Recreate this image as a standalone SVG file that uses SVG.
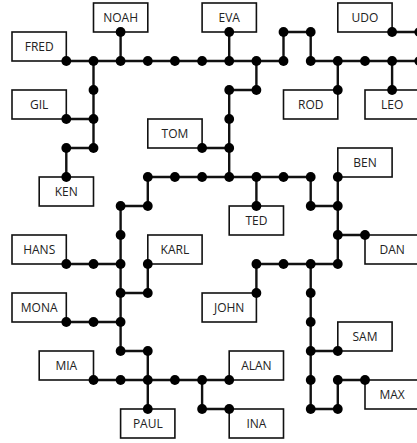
<svg xmlns="http://www.w3.org/2000/svg" width="417" height="443" viewBox="0 0 417 443">
<style>
.box rect{fill:#fff;stroke:#111;stroke-width:1.6}
.box text{font-family:"Open Sans","Noto Sans",sans-serif;font-size:12px;fill:#222;text-anchor:middle}
.wires path{fill:none;stroke:#111;stroke-width:2.4;stroke-linejoin:miter}
.wires use{fill:#000}
</style>
<defs><circle id="d" r="4.9"/></defs>
<rect width="417" height="443" fill="#fff"/>
<g class="box" id="noah"><rect x="93.5" y="3" width="54.3" height="29"/><text x="120.6" y="22">NOAH</text></g>
<g class="box" id="eva"><rect x="202.1" y="3" width="54.3" height="29"/><text x="229.2" y="22">EVA</text></g>
<g class="box" id="udo"><rect x="337.8" y="3" width="54.3" height="29"/><text x="365" y="22">UDO</text></g>
<g class="box" id="fred"><rect x="12" y="32" width="54.3" height="29"/><text x="39.2" y="51">FRED</text></g>
<g class="box" id="gil"><rect x="12" y="90" width="54.3" height="29"/><text x="39.2" y="109">GIL</text></g>
<g class="box" id="rod"><rect x="283.5" y="90" width="54.3" height="29"/><text x="310.7" y="109">ROD</text></g>
<g class="box" id="leo"><rect x="365" y="90" width="54.3" height="29"/><text x="392.1" y="109">LEO</text></g>
<g class="box" id="tom"><rect x="147.8" y="119" width="54.3" height="29"/><text x="174.9" y="138">TOM</text></g>
<g class="box" id="ben"><rect x="337.8" y="148" width="54.3" height="29"/><text x="365" y="167">BEN</text></g>
<g class="box" id="ken"><rect x="39.2" y="177" width="54.3" height="29"/><text x="66.3" y="196">KEN</text></g>
<g class="box" id="ted"><rect x="229.2" y="206" width="54.3" height="29"/><text x="256.4" y="225">TED</text></g>
<g class="box" id="hans"><rect x="12" y="235" width="54.3" height="29"/><text x="39.2" y="254">HANS</text></g>
<g class="box" id="karl"><rect x="147.8" y="235" width="54.3" height="29"/><text x="174.9" y="254">KARL</text></g>
<g class="box" id="dan"><rect x="365" y="235" width="54.3" height="29"/><text x="392.1" y="254">DAN</text></g>
<g class="box" id="mona"><rect x="12" y="293" width="54.3" height="29"/><text x="39.2" y="312">MONA</text></g>
<g class="box" id="john"><rect x="202.1" y="293" width="54.3" height="29"/><text x="229.2" y="312">JOHN</text></g>
<g class="box" id="sam"><rect x="337.8" y="322" width="54.3" height="29"/><text x="365" y="341">SAM</text></g>
<g class="box" id="mia"><rect x="39.2" y="351" width="54.3" height="29"/><text x="66.3" y="370">MIA</text></g>
<g class="box" id="alan"><rect x="229.2" y="351" width="54.3" height="29"/><text x="256.4" y="370">ALAN</text></g>
<g class="box" id="max"><rect x="365" y="380" width="54.3" height="29"/><text x="392.1" y="399">MAX</text></g>
<g class="box" id="paul"><rect x="120.6" y="409" width="54.3" height="29"/><text x="147.8" y="428">PAUL</text></g>
<g class="box" id="ina"><rect x="229.2" y="409" width="54.3" height="29"/><text x="256.4" y="428">INA</text></g>
<g class="wires" id="connectors">
<path d="M66.3,61 H283.5 M310.7,61 H425 M120.6,32 V61 M229.2,32 V61 M283.5,61 V32 H310.7 V61 M392.1,32 H425 M256.4,61 V90 H229.2 V177 M202.1,148 H229.2 M337.8,61 V90 M392.1,61 V90 M93.5,61 V148 M66.3,119 H93.5 M93.5,148 H66.3 V177 M147.8,177 H310.7 M147.8,177 V206 H120.6 V351 H147.8 V409 M256.4,177 V206 M310.7,177 V206 H337.8 M337.8,177 V264 M337.8,235 H365 M256.4,264 H337.8 M256.4,264 V293 M310.7,264 V409 H337.8 V380 H365 M310.7,351 H337.8 M66.3,264 H120.6 M147.8,264 V293 H120.6 M66.3,322 H120.6 M93.5,380 H202.1 V409 H229.2 M202.1,380 H229.2"/>
<use href="#d" x="120.6" y="32"/><use href="#d" x="229.2" y="32"/><use href="#d" x="283.5" y="32"/><use href="#d" x="310.7" y="32"/><use href="#d" x="392.1" y="32"/><use href="#d" x="419.3" y="32"/>
<use href="#d" x="66.3" y="61"/><use href="#d" x="93.5" y="61"/><use href="#d" x="120.6" y="61"/><use href="#d" x="147.8" y="61"/><use href="#d" x="174.9" y="61"/><use href="#d" x="202.1" y="61"/><use href="#d" x="229.2" y="61"/><use href="#d" x="256.4" y="61"/><use href="#d" x="283.5" y="61"/><use href="#d" x="310.7" y="61"/><use href="#d" x="337.8" y="61"/><use href="#d" x="365" y="61"/><use href="#d" x="392.1" y="61"/><use href="#d" x="419.3" y="61"/>
<use href="#d" x="93.5" y="90"/><use href="#d" x="229.2" y="90"/><use href="#d" x="256.4" y="90"/><use href="#d" x="337.8" y="90"/><use href="#d" x="392.1" y="90"/>
<use href="#d" x="66.3" y="119"/><use href="#d" x="93.5" y="119"/><use href="#d" x="229.2" y="119"/>
<use href="#d" x="66.3" y="148"/><use href="#d" x="93.5" y="148"/><use href="#d" x="202.1" y="148"/><use href="#d" x="229.2" y="148"/>
<use href="#d" x="66.3" y="177"/><use href="#d" x="147.8" y="177"/><use href="#d" x="174.9" y="177"/><use href="#d" x="202.1" y="177"/><use href="#d" x="229.2" y="177"/><use href="#d" x="256.4" y="177"/><use href="#d" x="283.5" y="177"/><use href="#d" x="310.7" y="177"/><use href="#d" x="337.8" y="177"/>
<use href="#d" x="120.6" y="206"/><use href="#d" x="147.8" y="206"/><use href="#d" x="256.4" y="206"/><use href="#d" x="310.7" y="206"/><use href="#d" x="337.8" y="206"/>
<use href="#d" x="120.6" y="235"/><use href="#d" x="337.8" y="235"/><use href="#d" x="365" y="235"/>
<use href="#d" x="66.3" y="264"/><use href="#d" x="93.5" y="264"/><use href="#d" x="120.6" y="264"/><use href="#d" x="147.8" y="264"/><use href="#d" x="256.4" y="264"/><use href="#d" x="283.5" y="264"/><use href="#d" x="310.7" y="264"/><use href="#d" x="337.8" y="264"/>
<use href="#d" x="120.6" y="293"/><use href="#d" x="147.8" y="293"/><use href="#d" x="256.4" y="293"/><use href="#d" x="310.7" y="293"/>
<use href="#d" x="66.3" y="322"/><use href="#d" x="93.5" y="322"/><use href="#d" x="120.6" y="322"/><use href="#d" x="310.7" y="322"/>
<use href="#d" x="120.6" y="351"/><use href="#d" x="147.8" y="351"/><use href="#d" x="310.7" y="351"/><use href="#d" x="337.8" y="351"/>
<use href="#d" x="93.5" y="380"/><use href="#d" x="120.6" y="380"/><use href="#d" x="147.8" y="380"/><use href="#d" x="174.9" y="380"/><use href="#d" x="202.1" y="380"/><use href="#d" x="229.2" y="380"/><use href="#d" x="310.7" y="380"/><use href="#d" x="337.8" y="380"/><use href="#d" x="365" y="380"/>
<use href="#d" x="147.8" y="409"/><use href="#d" x="202.1" y="409"/><use href="#d" x="229.2" y="409"/><use href="#d" x="310.7" y="409"/><use href="#d" x="337.8" y="409"/>
</g>
</svg>
